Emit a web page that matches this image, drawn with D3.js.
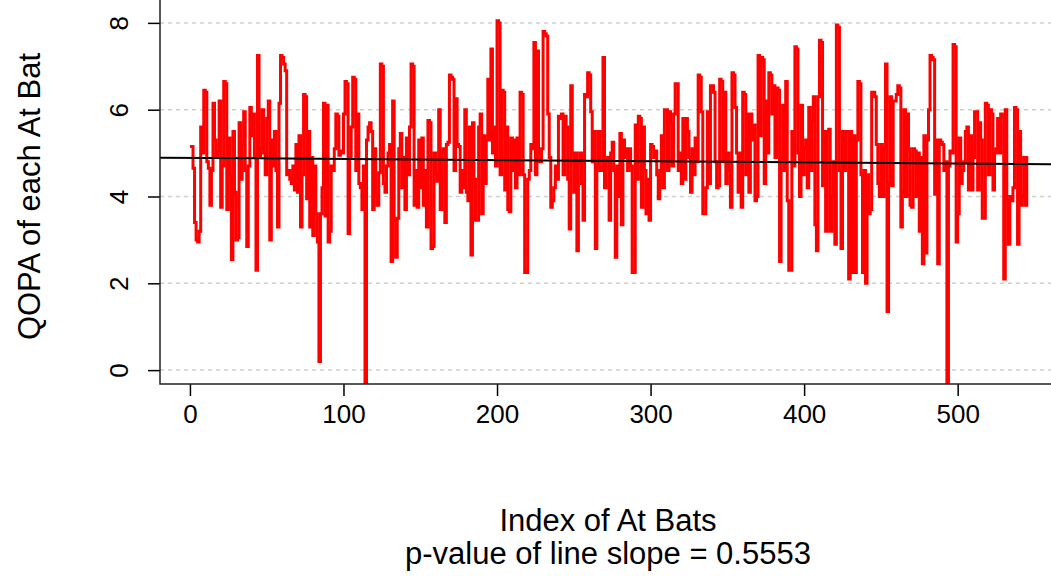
<!DOCTYPE html>
<html>
<head>
<meta charset="utf-8">
<script src="https://cdn.jsdelivr.net/npm/d3@7"></script>
<style>
  body { margin: 0; background: #fff; }
  text { font-family: "Liberation Sans", Arial, sans-serif; fill: #000; }
</style>
</head>
<body>
<svg width="1051" height="576"></svg>
<script>
/* global d3 */
    // QOPA value of each at bat (index 1..545)
    const qopa = [
      5.15, 4.65, 3.4, 3.0, 2.95, 3.2, 5.6, 5.0, 6.45, 6.4,
      4.8, 4.65, 3.8, 4.6, 6.15, 5.3, 4.9, 5.05, 6.2, 3.75,
      4.7, 6.65, 6.6, 3.7, 5.35, 4.5, 2.55, 5.5, 4.1, 3.0,
      3.05, 5.7, 4.4, 5.2, 5.95, 4.6, 2.85, 4.7, 6.05, 5.4,
      5.9, 4.9, 2.3, 7.25,
      4.9, 5.1, 6.0, 5.0, 4.5, 5.8, 6.2, 3.0, 5.3, 4.7,
      5.5, 4.6, 3.3, 6.15, 7.25, 7.2, 7.05, 6.9, 4.5, 4.6,
      4.4, 4.3, 4.7, 4.15, 5.2, 4.1, 5.4, 3.3, 4.5, 6.35,
      6.3, 3.95, 5.5, 3.3, 4.9, 3.1, 4.7, 3.6, 2.95, 0.2,
      3.6, 4.2, 6.15, 3.55, 6.1,
      2.95, 3.2, 4.7, 4.6, 5.1, 5.9, 5.85, 4.95, 5.05, 5.0,
      5.9, 6.65, 6.6, 3.15, 4.9, 5.6, 6.75, 6.7, 4.6, 5.9,
      4.3, 4.2, 3.7, 4.7, -0.5, 5.3, 5.6, 5.7, 5.5, 3.7,
      5.1, 4.0, 3.8, 4.55, 7.05, 7.0, 4.3, 4.1, 4.7, 5.0,
      5.2, 2.5, 6.2, 3.45,
      2.6, 3.5, 5.1, 5.45, 4.2, 4.9, 3.7, 5.35, 4.5, 5.6,
      7.05, 7.0, 3.8, 4.6, 3.75, 5.3, 4.2, 5.35, 3.8, 4.6,
      3.3, 5.75, 5.7, 2.8, 2.85, 5.0, 4.5, 4.35, 6.0, 3.7,
      5.0, 5.1, 3.4, 5.2, 5.25, 6.8, 6.75, 6.7, 4.6, 6.25,
      5.2, 5.15, 4.1, 4.6, 4.2, 6.0, 4.1,
      3.9, 5.6, 2.65, 5.7, 4.4, 3.45, 3.45, 5.6, 5.9, 3.6,
      5.4, 4.3, 5.3, 6.7, 5.3, 7.4, 5.0, 5.6, 4.7, 8.05,
      8.0, 4.5, 6.45, 6.4, 4.15, 5.6, 3.7, 3.65, 5.35, 4.6,
      5.3, 4.2, 5.35, 4.5, 6.4, 6.35, 4.5, 2.25, 2.25, 4.4,
      4.6, 5.2, 5.1, 7.55, 4.5,
      7.35, 5.0, 4.8, 5.1, 7.8, 7.75, 7.7, 5.9, 4.9, 3.75,
      3.9, 4.2, 4.7, 4.4, 5.85, 5.8, 5.9, 4.5, 5.85, 5.6,
      4.4, 3.25, 6.55, 5.0, 4.1, 5.0, 2.75, 4.8, 5.0, 4.3,
      3.45, 6.35, 6.3, 6.85, 6.8, 5.95, 4.8, 5.5, 2.8, 4.7,
      5.5, 4.6, 4.6, 7.2, 4.2,
      4.85, 4.9, 3.45, 5.0, 5.25, 4.6, 2.6, 4.7, 4.0, 5.45,
      3.35, 5.3, 4.9, 5.1, 4.6, 5.1, 4.7, 2.25, 2.25, 5.65,
      4.4, 5.85, 5.8, 3.75, 5.6, 4.6, 3.6, 4.4, 3.45, 5.2,
      5.15, 4.9, 5.05, 4.5, 3.95, 4.6, 5.4, 4.2, 6.0, 6.0,
      4.6, 5.95, 5.7, 4.7, 5.9, 6.6, 6.6,
      4.6, 5.0, 4.3, 5.8, 4.4, 5.8, 5.5, 4.9, 4.1, 5.1,
      4.5, 5.35, 4.8, 6.8, 6.75, 5.95, 3.6, 3.6, 4.2, 5.95,
      4.3, 6.55, 6.55, 6.4, 4.8, 4.2, 4.25, 6.7, 6.65, 4.8,
      6.4, 4.3, 5.0, 4.6, 3.75, 6.85, 6.8, 6.05, 5.0, 4.1,
      5.0, 3.75, 6.4, 6.35, 4.5,
      5.9, 4.1, 5.9, 5.3, 5.65, 3.9, 4.0, 7.25, 5.4, 7.2,
      7.15, 4.3, 6.2, 5.0, 6.85, 6.8, 5.9, 6.55, 4.9, 6.5,
      6.45, 2.5, 4.9, 6.1, 4.6, 6.65, 3.9, 2.3, 2.3, 5.5,
      4.7, 7.45, 7.4, 5.0, 4.0, 6.1, 4.5, 5.1, 5.3, 4.2,
      6.05, 4.6, 5.75, 6.3, 3.35,
      2.75, 6.3, 7.6, 7.55, 4.25, 5.5, 3.2, 5.5, 5.55, 3.2,
      4.0, 4.8, 2.9, 7.95, 7.9, 4.6, 2.8, 5.5, 4.6, 5.5,
      5.5, 2.1, 5.5, 2.25, 5.4, 2.25, 5.3, 6.65, 6.6, 4.5,
      2.25, 4.6, 2.0, 4.5, 3.6, 3.7, 6.4, 6.4, 6.3, 5.2,
      4.3, 4.0, 5.2, 4.0, 5.1, 7.05, 1.35,
      4.3, 6.3, 4.25, 6.2, 6.2, 6.35, 6.55, 6.5, 3.3, 4.1,
      6.0, 4.0, 5.9, 5.1, 3.8, 3.75, 5.1, 5.05, 4.0, 5.0,
      3.2, 4.9, 2.45, 5.4, 2.7, 5.3, 6.0, 7.25, 7.2, 7.15,
      4.05, 5.3, 2.45, 5.3, 5.25, 5.2, 4.6, 4.8, -0.5, 4.7,
      5.05, 5.0, 7.5, 7.45, 2.95,
      3.6, 5.35, 4.3, 4.6, 4.8, 5.5, 5.6, 4.15, 5.4, 4.15,
      4.9, 5.95, 5.95, 4.15, 5.7, 5.3, 3.5, 3.5, 6.15, 6.1,
      4.5, 6.0, 5.9, 4.15, 5.0, 5.1, 5.8, 5.0, 5.9, 5.85,
      2.1, 6.0, 3.9, 2.9, 4.0, 3.9, 4.2, 6.05, 6.0, 2.9,
      5.5, 3.8, 4.0, 4.9, 3.8, 4.9
    ];

    // intercept and slope of the fitted line
    const fitCoef = [4.89, -0.00026];

    const xTicks = [0, 100, 200, 300, 400, 500];
    const yTicks = [0, 2, 4, 6, 8];

    const xTitle = 'Index of At Bats';
    const subTitle = 'p-value of line slope = 0.5553';
    const yTitle = 'QOPA of each At Bat';

    const svg = d3.select('svg');
    const left = 160;
    const right = 1051;
    const bottom = 384;

    const x = d3.scaleLinear().domain([-19.5, 566]).range([160, 1059]);
    const y = d3.scaleLinear().domain([-0.32, 8.32]).range([384, 9]);

    svg.append('defs').append('clipPath').attr('id', 'plot')
      .append('rect')
        .attr('x', left)
        .attr('y', 0)
        .attr('width', right - left)
        .attr('height', bottom);

    // dashed grid
    svg.append('g')
      .selectAll('line').data(yTicks)
      .enter().append('line')
        .attr('x1', left)
        .attr('x2', right)
        .attr('y1', d => y(d))
        .attr('y2', d => y(d))
        .attr('stroke', '#cfcfcf')
        .attr('stroke-width', 1.5)
        .attr('stroke-dasharray', '4,4');

    const plot = svg.append('g').attr('clip-path', 'url(#plot)');

    // step line, like type = "s"
    const line = d3.line()
      .x((d, i) => x(i + 1))
      .y(d => y(d))
      .curve(d3.curveStepAfter);

    plot.append('path')
      .datum(qopa)
      .attr('d', line)
      .attr('fill', 'none')
      .attr('stroke', '#ff0000')
      .attr('stroke-width', 3)
      .attr('stroke-linejoin', 'miter')
      .attr('stroke-linecap', 'square');

    // regression line
    const x0 = x.invert(left);
    const x1 = x.invert(right);
    plot.append('line')
      .attr('x1', left)
      .attr('x2', right)
      .attr('y1', y(fitCoef[0] + fitCoef[1] * x0))
      .attr('y2', y(fitCoef[0] + fitCoef[1] * x1))
      .attr('stroke', '#000')
      .attr('stroke-width', 2);

    // axes
    const xAxis = svg.append('g')
      .attr('transform', `translate(0,${bottom})`)
      .call(d3.axisBottom(x).tickValues(xTicks).tickSize(12).tickSizeOuter(0));
    xAxis.select('.domain').remove();
    xAxis.selectAll('line').attr('stroke', '#000').attr('stroke-width', 1.5);
    xAxis.selectAll('text')
      .attr('y', 39)
      .attr('dy', 0)
      .style('font-size', '26px');

    const yAxis = svg.append('g')
      .attr('transform', `translate(${left},0)`)
      .call(d3.axisLeft(y).tickValues(yTicks).tickSize(12).tickSizeOuter(0));
    yAxis.select('.domain').remove();
    yAxis.selectAll('line').attr('stroke', '#000').attr('stroke-width', 1.5);
    yAxis.selectAll('text')
      .attr('x', 0)
      .attr('dy', 0)
      .attr('text-anchor', 'middle')
      .attr('transform', 'translate(-32,0) rotate(-90)')
      .style('font-size', '26px');

    svg.append('path')
      .attr('d', `M${left},0V${bottom}H${right}`)
      .attr('fill', 'none')
      .attr('stroke', '#222')
      .attr('stroke-width', 1.5);

    // titles
    const midX = (left + 1056) / 2;
    svg.append('text')
      .attr('x', midX)
      .attr('y', 531)
      .attr('text-anchor', 'middle')
      .style('font-size', '31px')
      .text(xTitle);
    svg.append('text')
      .attr('x', midX)
      .attr('y', 564)
      .attr('text-anchor', 'middle')
      .style('font-size', '31px')
      .text(subTitle);
    svg.append('text')
      .attr('transform', `translate(40,${(9 + bottom) / 2}) rotate(-90)`)
      .attr('text-anchor', 'middle')
      .style('font-size', '31px')
      .text(yTitle);
</script>
</body>
</html>
